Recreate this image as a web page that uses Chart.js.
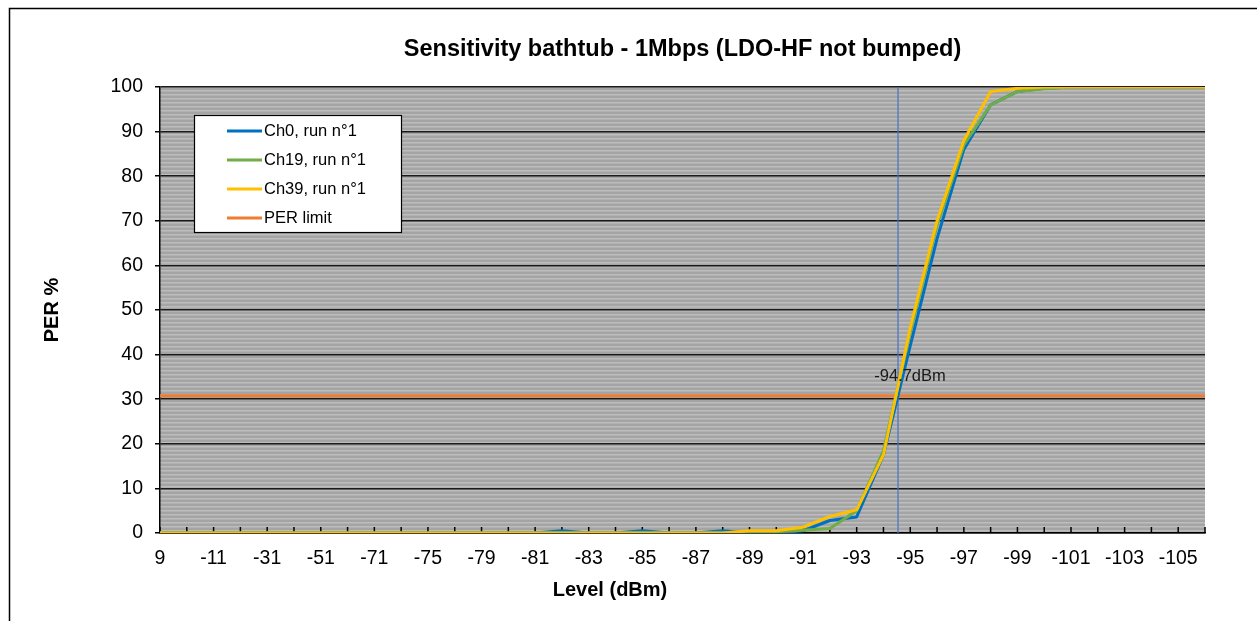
<!DOCTYPE html>
<html>
<head>
<meta charset="utf-8">
<script src="https://cdn.jsdelivr.net/npm/chart.js@4/dist/chart.umd.min.js"></script>
<style>
  html, body { margin: 0; padding: 0; background: #fff; }
</style>
</head>
<body>
<canvas id="bathtub" width="1257" height="621"></canvas>
<script>
// Level axis (dBm) as swept on the bench
const levels = [9, -1, -11, -21, -31, -41, -51, -61, -71, -73, -75, -77, -79, -80,
  -81, -82, -83, -84, -85, -86, -87, -88, -89, -90, -91, -92, -93, -94, -95, -96,
  -97, -98, -99, -100, -101, -102, -103, -104, -105, -106];

// PER % per channel
const ch0  = [0, 0, 0, 0, 0, 0, 0, 0, 0, 0, 0, 0, 0, 0,
  0, 0.5, 0, 0, 0.5, 0, 0, 0.5, 0, 0, 0.5, 2.8, 3.6, 17.5, 42, 66,
  86, 96, 99, 99.7, 100, 100, 100, 100, 100, 100];
const ch19 = [0, 0, 0, 0, 0, 0, 0, 0, 0, 0, 0, 0, 0, 0,
  0, 0, 0, 0, 0, 0, 0, 0, 0.3, 0.3, 0.6, 1, 5, 18.5, 45, 69,
  87, 96, 99, 99.6, 100, 100, 100, 100, 100, 100];
const ch39 = [0, 0, 0, 0, 0, 0, 0, 0, 0, 0, 0, 0, 0, 0,
  0, 0, 0, 0, 0, 0, 0, 0, 0.5, 0.5, 1.3, 3.7, 5.2, 17.5, 46, 70,
  88, 99, 99.7, 100, 100, 100, 100, 100, 100, 100];

const perLimit = 30.8;
const sensitivity = -94.7;

const seriesNames = ['Ch0, run n°1', 'Ch19, run n°1', 'Ch39, run n°1', 'PER limit'];
const seriesColors = ['#0070C0', '#70AD47', '#FFC000', '#ED7D31'];

const FONT = "'Liberation Sans', Arial, sans-serif";

// grey hatched plot background like the excel sheet
function makeHatch(ctx) {
  const c = document.createElement('canvas');
  c.width = 4; c.height = 4;
  const g = c.getContext('2d');
  const rows = ['#a4a4a4', '#a4a4a4', '#bdbdbd', '#b1b1b1'];
  rows.forEach((col, i) => { g.fillStyle = col; g.fillRect(0, i, 4, 1); });
  return ctx.createPattern(c, 'repeat');
}

const excelLook = {
  id: 'excelLook',
  beforeDraw(chart) {
    const { ctx, chartArea: a } = chart;
    ctx.save();
    ctx.fillStyle = '#fff';
    ctx.fillRect(0, 0, chart.width, chart.height);
    ctx.fillStyle = makeHatch(ctx);
    ctx.fillRect(a.left, a.top, a.right - a.left, a.bottom - a.top);
    // outer frame (left + top edges visible)
    ctx.strokeStyle = '#000';
    ctx.lineWidth = 1.5;
    ctx.beginPath();
    ctx.moveTo(9.5, chart.height);
    ctx.lineTo(9.5, 8.5);
    ctx.lineTo(chart.width, 8.5);
    ctx.stroke();
    ctx.restore();
  },
  beforeDatasetsDraw(chart) {
    const { ctx, chartArea: a, scales: { x } } = chart;
    ctx.save();
    // inside tick marks on the level axis
    ctx.strokeStyle = '#000';
    ctx.lineWidth = 1.5;
    ctx.beginPath();
    levels.forEach((_, i) => {
      const px = x.getPixelForValue(i);
      ctx.moveTo(px, a.bottom);
      ctx.lineTo(px, a.bottom - 6);
    });
    ctx.stroke();
    // sensitivity marker where Ch0 crosses the PER limit
    const mx = markerX(x);
    ctx.strokeStyle = '#4472C4';
    ctx.lineWidth = 1.2;
    ctx.beginPath();
    ctx.moveTo(mx, a.top);
    ctx.lineTo(mx, a.bottom);
    ctx.stroke();
    ctx.restore();
  },
  afterDraw(chart) {
    const { ctx, chartArea: a, scales: { x, y } } = chart;
    ctx.save();
    ctx.fillStyle = '#000';
    ctx.textAlign = 'center';
    ctx.textBaseline = 'middle';

    // title
    ctx.font = `bold 23.5px ${FONT}`;
    ctx.fillText('Sensitivity bathtub - 1Mbps (LDO-HF not bumped)', (a.left + a.right) / 2, a.top - 37);

    // x axis title
    ctx.font = `bold 20px ${FONT}`;
    ctx.fillText('Level (dBm)', a.left + 450, a.bottom + 57);

    // data label for the marker
    ctx.font = `16.5px ${FONT}`;
    ctx.fillStyle = '#1a1a1a';
    ctx.fillText(`${sensitivity}dBm`, markerX(x) + 12, y.getPixelForValue(perLimit) - 19);

    // legend box
    const lx = a.left + 34, ly = a.top + 28;
    ctx.fillStyle = '#fff';
    ctx.fillRect(lx, ly, 207, 117);
    ctx.strokeStyle = '#000';
    ctx.lineWidth = 1.2;
    ctx.strokeRect(lx + 0.5, ly + 0.5, 207, 117);
    ctx.textAlign = 'left';
    ctx.font = `16.5px ${FONT}`;
    chart.data.datasets.forEach((ds, i) => {
      const ry = ly + 16 + i * 29;
      ctx.strokeStyle = ds.borderColor;
      ctx.lineWidth = 3;
      ctx.beginPath();
      ctx.moveTo(lx + 33, ry);
      ctx.lineTo(lx + 68, ry);
      ctx.stroke();
      ctx.fillStyle = '#000';
      ctx.fillText(ds.label, lx + 70, ry);
    });
    ctx.restore();
  }
};

function markerX(xScale) {
  for (let i = 0; i < ch0.length - 1; i++) {
    if (ch0[i] < perLimit && ch0[i + 1] >= perLimit) {
      const f = (perLimit - ch0[i]) / (ch0[i + 1] - ch0[i]);
      const p0 = xScale.getPixelForValue(i);
      const p1 = xScale.getPixelForValue(i + 1);
      return p0 + f * (p1 - p0);
    }
  }
  return xScale.left;
}

const lineStyle = { borderWidth: 3, pointRadius: 0, tension: 0, fill: false, borderJoinStyle: 'round' };

new Chart(document.getElementById('bathtub').getContext('2d'), {
  type: 'line',
  data: {
    labels: levels.map(String),
    datasets: [
      { ...lineStyle, label: seriesNames[0], data: ch0, borderColor: seriesColors[0], order: 2 },
      { ...lineStyle, label: seriesNames[1], data: ch19, borderColor: seriesColors[1], order: 1 },
      { ...lineStyle, label: seriesNames[2], data: ch39, borderColor: seriesColors[2], order: 0 },
      { ...lineStyle, label: seriesNames[3], data: levels.map(() => perLimit), borderColor: seriesColors[3], order: 3 }
    ]
  },
  options: {
    responsive: false,
    animation: false,
    devicePixelRatio: 1,
    layout: { padding: { left: 10, top: 87, right: 52, bottom: 0 } },
    plugins: {
      legend: { display: false },
      tooltip: { enabled: false },
      title: { display: false }
    },
    scales: {
      x: {
        type: 'category',
        offset: false,
        grid: { display: false },
        border: { display: true, color: '#000', width: 1.5 },
        ticks: {
          autoSkip: false,
          maxRotation: 0,
          padding: 6,
          color: '#000',
          font: { family: FONT, size: 19.5, lineHeight: 1.2 },
          callback: (v, i) => (i % 2 === 0 ? String(levels[i]) : '')
        },
        afterFit: s => { s.height = 88; }
      },
      y: {
        min: 0,
        max: 100,
        grid: { color: '#1a1a1a', lineWidth: 1.5, tickLength: 5, tickColor: '#000', tickWidth: 1.5 },
        border: { display: true, color: '#000', width: 1.5 },
        ticks: {
          stepSize: 10,
          padding: 12,
          color: '#000',
          font: { family: FONT, size: 19.5 }
        },
        title: {
          display: true,
          text: 'PER %',
          color: '#000',
          font: { family: FONT, size: 20, weight: 'bold', lineHeight: 1.2 },
          padding: { top: 30, bottom: 0 }
        },
        afterFit: s => { s.width = 150; }
      }
    }
  },
  plugins: [excelLook]
});
</script>
</body>
</html>
